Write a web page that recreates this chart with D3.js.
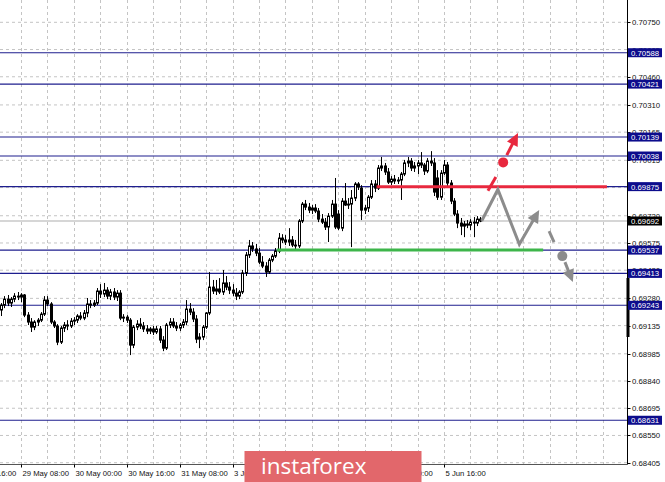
<!DOCTYPE html>
<html><head><meta charset="utf-8">
<script src="https://cdn.jsdelivr.net/npm/d3@7"></script>
<style>body{margin:0;background:#fff}svg{display:block}</style>
</head><body>
<svg id="c" width="665" height="482"></svg>
<script>
// ---- DATA ----
const firstBar = -6; // bar index of first candle (0 = 29 May 08:00, hourly bars)
const opens = [0.69218,0.69244,0.69276,0.69255,0.69276,0.69292,0.69287,0.69298,0.69191,0.69154,0.69127,0.69154,0.69164,0.69196,0.69271,0.69250,0.69154,0.69133,0.69047,0.69122,0.69138,0.69133,0.69159,0.69164,0.69186,0.69175,0.69202,0.69250,0.69244,0.69255,0.69319,0.69303,0.69324,0.69292,0.69314,0.69287,0.69308,0.69175,0.69180,0.69164,0.69031,0.69127,0.69143,0.69133,0.69117,0.69106,0.69117,0.69101,0.69117,0.69058,0.69015,0.69138,0.69154,0.69133,0.69122,0.69138,0.69154,0.69223,0.69207,0.69170,0.69063,0.69074,0.69127,0.69202,0.69340,0.69319,0.69330,0.69314,0.69362,0.69340,0.69324,0.69308,0.69292,0.69314,0.69415,0.69511,0.69559,0.69543,0.69521,0.69473,0.69452,0.69420,0.69484,0.69505,0.69532,0.69601,0.69591,0.69580,0.69591,0.69564,0.69559,0.69692,0.69782,0.69766,0.69750,0.69761,0.69745,0.69702,0.69686,0.69660,0.69718,0.69782,0.69729,0.69654,0.69798,0.69777,0.69782,0.69814,0.69889,0.69867,0.69750,0.69761,0.69819,0.69889,0.69867,0.69974,0.69985,0.69953,0.69899,0.69915,0.69905,0.69910,0.69942,0.70001,0.70011,0.69974,0.69985,0.70001,0.69990,0.69958,0.70011,0.70001,0.69921,0.69819,0.69947,0.69990,0.69894,0.69798,0.69729,0.69681,0.69665,0.69676,0.69670,0.69686,0.69681,0.69702];
const highs = [0.69255,0.69292,0.69298,0.69287,0.69308,0.69314,0.69308,0.69303,0.69207,0.69175,0.69164,0.69175,0.69207,0.69292,0.69292,0.69260,0.69164,0.69143,0.69133,0.69154,0.69164,0.69175,0.69180,0.69196,0.69207,0.69218,0.69282,0.69271,0.69271,0.69335,0.69356,0.69362,0.69340,0.69330,0.69335,0.69324,0.69324,0.69196,0.69191,0.69175,0.69138,0.69164,0.69175,0.69154,0.69138,0.69127,0.69133,0.69133,0.69133,0.69079,0.69149,0.69175,0.69175,0.69154,0.69149,0.69170,0.69271,0.69255,0.69228,0.69191,0.69095,0.69138,0.69207,0.69420,0.69378,0.69378,0.69388,0.69431,0.69399,0.69367,0.69356,0.69335,0.69324,0.69431,0.69527,0.69591,0.69580,0.69570,0.69548,0.69505,0.69473,0.69495,0.69516,0.69548,0.69628,0.69622,0.69617,0.69654,0.69612,0.69591,0.69702,0.69793,0.69804,0.69788,0.69777,0.69782,0.69761,0.69729,0.69708,0.69734,0.69804,0.69921,0.69750,0.69814,0.69894,0.69814,0.69857,0.69899,0.69899,0.69883,0.69777,0.69830,0.69910,0.69910,0.69990,0.70033,0.70001,0.69974,0.69931,0.69937,0.69926,0.69953,0.70017,0.70033,0.70027,0.70006,0.70017,0.70059,0.70001,0.70027,0.70064,0.70027,0.69963,0.69963,0.70017,0.70006,0.69910,0.69814,0.69750,0.69708,0.69692,0.69697,0.69702,0.69713,0.69718,0.69713];
const lows = [0.69186,0.69228,0.69239,0.69234,0.69260,0.69271,0.69260,0.69180,0.69138,0.69101,0.69111,0.69133,0.69154,0.69186,0.69239,0.69143,0.69122,0.69031,0.69037,0.69101,0.69111,0.69122,0.69138,0.69149,0.69164,0.69164,0.69180,0.69228,0.69234,0.69244,0.69282,0.69287,0.69276,0.69271,0.69271,0.69266,0.69164,0.69154,0.69149,0.68978,0.69015,0.69111,0.69117,0.69101,0.69090,0.69090,0.69085,0.69090,0.69042,0.68999,0.69005,0.69122,0.69122,0.69106,0.69106,0.69122,0.69138,0.69191,0.69154,0.69042,0.69015,0.69058,0.69117,0.69191,0.69303,0.69298,0.69303,0.69298,0.69324,0.69303,0.69292,0.69271,0.69276,0.69303,0.69399,0.69495,0.69527,0.69505,0.69463,0.69441,0.69394,0.69410,0.69473,0.69495,0.69521,0.69575,0.69564,0.69559,0.69553,0.69537,0.69548,0.69681,0.69750,0.69734,0.69729,0.69734,0.69686,0.69676,0.69644,0.69580,0.69708,0.69649,0.69644,0.69638,0.69772,0.69756,0.69553,0.69798,0.69857,0.69697,0.69729,0.69740,0.69809,0.69846,0.69857,0.69958,0.69937,0.69889,0.69883,0.69889,0.69889,0.69804,0.69931,0.69979,0.69958,0.69953,0.69942,0.69974,0.69937,0.69947,0.69985,0.69825,0.69804,0.69804,0.69937,0.69878,0.69782,0.69718,0.69654,0.69617,0.69606,0.69654,0.69644,0.69606,0.69665,0.69686];
const closes = [0.69244,0.69276,0.69255,0.69276,0.69292,0.69287,0.69298,0.69191,0.69154,0.69127,0.69154,0.69164,0.69196,0.69271,0.69250,0.69154,0.69133,0.69047,0.69122,0.69138,0.69133,0.69159,0.69164,0.69186,0.69175,0.69202,0.69250,0.69244,0.69255,0.69319,0.69303,0.69324,0.69292,0.69314,0.69287,0.69308,0.69175,0.69180,0.69164,0.69031,0.69127,0.69143,0.69133,0.69117,0.69106,0.69117,0.69101,0.69117,0.69058,0.69015,0.69138,0.69154,0.69133,0.69122,0.69138,0.69154,0.69223,0.69207,0.69170,0.69063,0.69074,0.69127,0.69202,0.69340,0.69319,0.69330,0.69314,0.69362,0.69340,0.69324,0.69308,0.69292,0.69314,0.69415,0.69511,0.69559,0.69543,0.69521,0.69473,0.69452,0.69420,0.69484,0.69505,0.69532,0.69601,0.69591,0.69580,0.69591,0.69564,0.69559,0.69692,0.69782,0.69766,0.69750,0.69761,0.69745,0.69702,0.69686,0.69660,0.69718,0.69782,0.69660,0.69654,0.69798,0.69777,0.69782,0.69814,0.69889,0.69873,0.69750,0.69761,0.69819,0.69889,0.69867,0.69974,0.69985,0.69953,0.69899,0.69915,0.69905,0.69910,0.69942,0.70001,0.70011,0.69974,0.69985,0.70001,0.69990,0.69958,0.70011,0.70001,0.69846,0.69819,0.69947,0.69990,0.69894,0.69798,0.69729,0.69681,0.69665,0.69676,0.69670,0.69686,0.69681,0.69702,0.69692];

const priceTicks = [0.70750,0.70605,0.70460,0.70310,0.70165,0.70015,0.69870,0.69720,0.69575,0.69430,0.69280,0.69135,0.68985,0.68840,0.68695,0.68550,0.68405];
const levels = [0.70588,0.70421,0.70139,0.70038,0.69875,0.69537,0.69413,0.69243,0.68631];
const currentPrice = 0.69692;
const timeLabels = ["28 May 16:00","29 May 08:00","30 May 00:00","30 May 16:00","31 May 08:00","3 Jun 00:00","3 Jun 16:00","4 Jun 08:00","5 Jun 00:00","5 Jun 16:00"];
const timeBars = [-16,0,16,32,48,64,80,96,112,128];
// resistance / support zones [startBar, endBar, price]
const resistance = [107.6, 177.3, 0.69875];
const support = [77.4, 158.0, 0.69537];
// forecast paths [bar, price]
const grayZigzag = [[139.4,0.69692],[144.3,0.69860],[150.8,0.69568],[156.8,0.69750]];
const redDash = [[141.3,0.69853],[143.7,0.69926]];
const redDot = [145.9,0.70004];
const redArrow = [[147.0,0.70043],[150.4,0.70160]];
const grayDash = [[159.8,0.69638],[161.3,0.69580]];
const grayDot = [163.8,0.69505];
const grayArrow = [[164.6,0.69473],[167.0,0.69367]];

// ---- SCALES ----
const W = 665, H = 482, axisX = 627.5, bottomY = 464.5;
const x = d3.scaleLinear().domain([0,128]).range([21,444]);
const y = d3.scaleLinear().domain([0.68405,0.70750]).range([462.7,22.3]);
const svg = d3.select("#c");
const font = "'Liberation Sans', Arial, sans-serif";

const plot = svg.append("g");
// grid
const vGrid = d3.range(0,184,8);
plot.selectAll(".vg").data(vGrid).join("line")
  .attr("x1",d=>Math.round(x(d))+0.5).attr("x2",d=>Math.round(x(d))+0.5)
  .attr("y1",0).attr("y2",bottomY).attr("stroke","#c4c4c4").attr("stroke-dasharray","3,3");
plot.selectAll(".hg").data(priceTicks).join("line")
  .attr("x1",0).attr("x2",axisX).attr("y1",d=>y(d)).attr("y2",d=>y(d))
  .attr("stroke","#c4c4c4").attr("stroke-dasharray","3,3");

// current price line
plot.append("line").attr("x1",0).attr("x2",axisX).attr("y1",y(currentPrice)).attr("y2",y(currentPrice))
  .attr("stroke","#c8c8c8").attr("stroke-width",1.6);
// level lines
plot.selectAll(".lv").data(levels).join("line")
  .attr("x1",0).attr("x2",axisX).attr("y1",d=>y(d)).attr("y2",d=>y(d))
  .attr("stroke","#1e1e8e").attr("stroke-width",1.1);

// candles
const bars = opens.map((o,k)=>({i:firstBar+k,o,h:highs[k],l:lows[k],c:closes[k]}));
const cg = plot.append("g");
bars.forEach(b=>{
  const cx = Math.round(x(b.i));
  cg.append("line").attr("x1",cx+0.5).attr("x2",cx+0.5).attr("y1",y(b.h)).attr("y2",y(b.l)).attr("stroke","#000");
  const top = y(Math.max(b.o,b.c)), bot = y(Math.min(b.o,b.c));
  if (b.c >= b.o) {
    cg.append("rect").attr("x",cx-0.5).attr("width",2).attr("y",top).attr("height",Math.max(bot-top,0.8))
      .attr("fill","#fff").attr("stroke","#000").attr("stroke-width",1);
  } else {
    cg.append("rect").attr("x",cx-1).attr("width",3).attr("y",top-0.5).attr("height",Math.max(bot-top+1,1))
      .attr("fill","#000");
  }
});

// zones
plot.append("line").attr("x1",x(resistance[0])).attr("x2",x(resistance[1]))
  .attr("y1",y(resistance[2])).attr("y2",y(resistance[2])).attr("stroke","#e8283e").attr("stroke-width",3);
plot.append("line").attr("x1",x(support[0])).attr("x2",x(support[1]))
  .attr("y1",y(support[2])).attr("y2",y(support[2])).attr("stroke","#3db54a").attr("stroke-width",3);

// forecast drawings
const line = d3.line().x(d=>x(d[0])).y(d=>y(d[1]));
function arrowHead(from,to,color){
  const x1=x(from[0]),y1=y(from[1]),x2=x(to[0]),y2=y(to[1]);
  const dx=x2-x1, dy=y2-y1, L=Math.hypot(dx,dy), ux=dx/L, uy=dy/L;
  const len=12.5, wd=6;
  const bx=x2-ux*len, by=y2-uy*len;
  svg.append("path").attr("d",`M${x2},${y2}L${bx-uy*wd},${by+ux*wd}L${bx+uy*wd},${by-ux*wd}Z`).attr("fill",color);
  return [bx+ux*1,by+uy*1];
}
function arrowPath(pts,color){
  const n=pts.length, from=pts[n-2], to=pts[n-1];
  const base = arrowHead(from,to,color);
  const coords = pts.slice(0,n-1).map(p=>[x(p[0]),y(p[1])]).concat([base]);
  svg.append("path").attr("d",d3.line()(coords)).attr("fill","none").attr("stroke",color)
    .attr("stroke-width",3).attr("stroke-linejoin","miter");
}
const gray="#8c8c8c", red="#e8283e";
arrowPath(grayZigzag,gray);
svg.append("path").attr("d",line(redDash)).attr("stroke",red).attr("stroke-width",3).attr("fill","none");
svg.append("circle").attr("cx",x(redDot[0])).attr("cy",y(redDot[1])).attr("r",5).attr("fill",red);
arrowPath(redArrow,red);
svg.append("path").attr("d",line(grayDash)).attr("stroke",gray).attr("stroke-width",3).attr("fill","none");
svg.append("circle").attr("cx",x(grayDot[0])).attr("cy",y(grayDot[1])).attr("r",5).attr("fill",gray);
arrowPath(grayArrow,gray);

// axes
svg.append("rect").attr("x",axisX).attr("y",0).attr("width",W-axisX).attr("height",H).attr("fill","#fff");
svg.append("rect").attr("x",0).attr("y",bottomY).attr("width",axisX).attr("height",H-bottomY).attr("fill","#fff");
svg.append("line").attr("x1",axisX).attr("x2",axisX).attr("y1",0).attr("y2",bottomY).attr("stroke","#000");
svg.append("line").attr("x1",0).attr("x2",axisX).attr("y1",bottomY).attr("y2",bottomY).attr("stroke","#555");
svg.append("rect").attr("x",axisX-1).attr("y",278).attr("width",3).attr("height",59).attr("fill","#000");

svg.selectAll(".pt").data(priceTicks).join("line")
  .attr("x1",axisX).attr("x2",axisX+3).attr("y1",d=>Math.round(y(d))+0.5).attr("y2",d=>Math.round(y(d))+0.5).attr("stroke","#000");
svg.selectAll(".ptl").data(priceTicks).join("text")
  .attr("x",632).attr("y",d=>y(d)+3).text(d=>d.toFixed(5))
  .attr("font-family",font).attr("font-size","7.8px").attr("fill","#111");

svg.selectAll(".tt").data(timeBars).join("line")
  .attr("x1",d=>Math.round(x(d))+0.5).attr("x2",d=>Math.round(x(d))+0.5).attr("y1",bottomY).attr("y2",bottomY+3).attr("stroke","#000");
svg.selectAll(".ttl").data(timeBars).join("text")
  .attr("x",d=>x(d)+1.5).attr("y",476).text((d,k)=>timeLabels[k])
  .attr("font-family",font).attr("font-size","7.7px").attr("fill","#111");

// level labels
const boxes = levels.map(v=>({v,bg:"#0c0c8c"})).concat([{v:currentPrice,bg:"#000"}]);
const bg = svg.selectAll(".bx").data(boxes).join("g");
bg.append("rect").attr("x",628).attr("y",d=>y(d.v)-4.5).attr("width",34).attr("height",9).attr("fill",d=>d.bg);
bg.append("text").attr("x",631).attr("y",d=>y(d.v)+3).text(d=>d.v.toFixed(5))
  .attr("font-family",font).attr("font-size","7.8px").attr("fill","#fff");

// watermark logo
svg.append("rect").attr("x",244.5).attr("y",451).attr("width",177).attr("height",40).attr("fill","#e2676b");
svg.append("text").attr("x",261).attr("y",474).text("instaforex")
  .attr("font-family","'Open Sans', sans-serif").attr("font-size","22.5px").attr("fill","#fff");
</script>
</body></html>
